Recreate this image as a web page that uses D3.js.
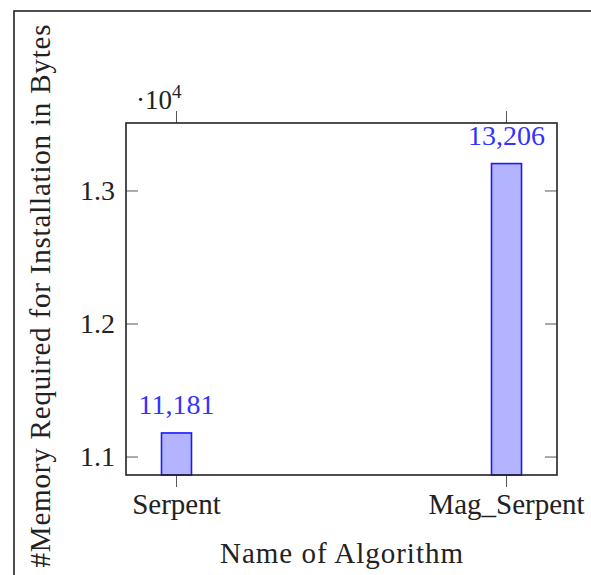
<!DOCTYPE html>
<html>
<head>
<meta charset="utf-8">
<script src="https://cdn.jsdelivr.net/npm/d3@7"></script>
<style>
  body { margin: 0; background: #fff; }
  text { font-family: "Liberation Serif"; }
</style>
</head>
<body>
<div id="chart"></div>
<script>
// data
var algorithms = ["Serpent", "Mag_Serpent"];
var memoryBytes = [11181, 13206];
var yTicks = [11000, 12000, 13000];
var yTickLabels = ["1.1", "1.2", "1.3"];
var xTitle = "Name of Algorithm";
var yTitle = "#Memory Required for Installation in Bytes";

var w = 591, h = 575;
var margin = {left: 126, top: 123, right: 34, bottom: 100};
var plotw = w - margin.left - margin.right;
var ploth = h - margin.top - margin.bottom;

var svg = d3.select("#chart").append("svg")
    .attr("width", w)
    .attr("height", h);

// outer frame (cut by the page edges)
svg.append("rect")
    .attr("x", 14).attr("y", 11)
    .attr("width", w).attr("height", h)
    .attr("fill", "none")
    .attr("stroke", "#222")
    .attr("stroke-width", 1.6);

var xScale = d3.scalePoint().domain(algorithms).range([0, plotw]).padding(0.153);
var yScale = d3.scaleLinear().domain([10865, 13511]).range([ploth, 0]);

var plot = svg.append("g")
    .attr("transform", "translate(" + margin.left + "," + margin.top + ")");

var barw = 30;
var bars = algorithms.map(function(a, i) { return {name: a, value: memoryBytes[i]}; });

plot.selectAll("rect.bar")
    .data(bars)
    .enter()
    .append("rect")
    .attr("class", "bar")
    .attr("x", function(d) { return xScale(d.name) - barw / 2; })
    .attr("y", function(d) { return yScale(d.value); })
    .attr("width", barw)
    .attr("height", function(d) { return ploth - yScale(d.value); })
    .attr("fill", "#b3b3ff")
    .attr("stroke", "#1a1aff")
    .attr("stroke-width", 1.6);

plot.selectAll("text.val")
    .data(bars)
    .enter()
    .append("text")
    .attr("class", "val")
    .attr("x", function(d) { return xScale(d.name); })
    .attr("y", function(d) { return yScale(d.value) - 19; })
    .attr("text-anchor", "middle")
    .attr("font-size", 28)
    .attr("fill", "#3333ff")
    .text(function(d) { return d3.format(",")(d.value); });

// y ticks, inside on both sides
var tickLen = 12;
yTicks.forEach(function(t, i) {
    var y = yScale(t);
    plot.append("line")
        .attr("x1", 0).attr("x2", tickLen).attr("y1", y).attr("y2", y)
        .attr("stroke", "#555").attr("stroke-width", 1);
    plot.append("line")
        .attr("x1", plotw - tickLen).attr("x2", plotw).attr("y1", y).attr("y2", y)
        .attr("stroke", "#555").attr("stroke-width", 1);
    plot.append("text")
        .attr("x", -11).attr("y", y + 9)
        .attr("text-anchor", "end")
        .attr("font-size", 28)
        .attr("fill", "#222")
        .text(yTickLabels[i]);
});

// x ticks, outside top and bottom
algorithms.forEach(function(a) {
    var x = xScale(a);
    plot.append("line")
        .attr("x1", x).attr("x2", x).attr("y1", ploth).attr("y2", ploth + tickLen)
        .attr("stroke", "#555").attr("stroke-width", 1);
    plot.append("line")
        .attr("x1", x).attr("x2", x).attr("y1", 0).attr("y2", -tickLen)
        .attr("stroke", "#555").attr("stroke-width", 1);
});

plot.selectAll("text.xlab")
    .data(algorithms)
    .enter()
    .append("text")
    .attr("class", "xlab")
    .attr("x", function(d) { return xScale(d); })
    .attr("y", ploth + 39)
    .attr("text-anchor", "middle")
    .attr("font-size", 29)
    .attr("fill", "#222")
    .text(function(d) { return d; });

// axis box
plot.append("rect")
    .attr("width", plotw).attr("height", ploth)
    .attr("fill", "none")
    .attr("stroke", "#222")
    .attr("stroke-width", 1.6);

// scale factor label
var sf = svg.append("text")
    .attr("x", 136).attr("y", 109)
    .attr("font-size", 27)
    .attr("fill", "#222");
sf.append("tspan").text("\u00b710");
sf.append("tspan").attr("dy", -11).attr("font-size", 19).text("4");

// axis titles
svg.append("text")
    .attr("x", margin.left + plotw / 2)
    .attr("y", 563)
    .attr("text-anchor", "middle")
    .attr("font-size", 29)
    .attr("fill", "#222")
    .attr("textLength", 243)
    .text(xTitle);

svg.append("text")
    .attr("transform", "translate(50," + 296 + ") rotate(-90)")
    .attr("text-anchor", "middle")
    .attr("font-size", 29)
    .attr("fill", "#222")
    .attr("textLength", 543)
    .text(yTitle);
</script>
</body>
</html>
